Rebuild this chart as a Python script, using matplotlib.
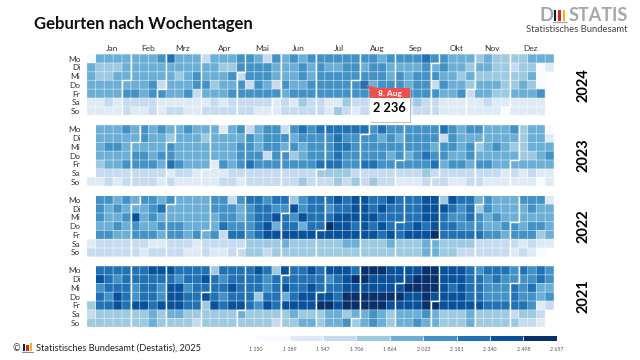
"""
Geburten nach Wochentagen: Kalender-Heatmap
"""
from datetime import date

import matplotlib
matplotlib.use("Agg")
import matplotlib.pyplot as plt
import numpy as np
from matplotlib.colors import BoundaryNorm, ListedColormap
from matplotlib.patches import Polygon, Rectangle

plt.rcParams["font.family"] = ["Lato", "DejaVu Sans"]

years = [2024, 2023, 2022, 2021]
weekdays = ["Mo", "Di", "Mi", "Do", "Fr", "Sa", "So"]
months = ["Jan", "Feb", "Mrz", "Apr", "Mai", "Jun", "Jul", "Aug", "Sep", "Okt", "Nov", "Dez"]
month_pos = [2.9, 7.0, 10.9, 15.6, 19.9, 24.0, 28.6, 33.0, 37.3, 42.0, 46.0, 50.3]
breaks = [1230, 1389, 1547, 1706, 1864, 2023, 2181, 2340, 2498, 2657]
break_labels = ["1 230", "1 389", "1 547", "1 706", "1 864", "2 023", "2 181", "2 340", "2 498", "2 657"]
shades = ["#f7fbff", "#deebf7", "#c6dbef", "#9ecae1", "#6baed6", "#4292c6", "#2171b5", "#08519c", "#08306b"]

# Geburten je Tag in Hundert, Zeile = Wochentag, Spalte = Kalenderwoche, 0 = kein Tag
births_2024 = [
    [13,19,19,19,19,19,19,19,21,23,19,19,19,16,19,19,19,21,21,19,16,21,19,21,19,21,21,21,21,21,21,21,21,19,21,21,21,21,23,21,21,19,19,19,18,19,18,18,18,18,19,19,19],
    [19,18,18,18,19,19,19,19,19,19,19,19,19,19,19,18,18,21,21,21,21,19,19,19,21,19,21,19,19,21,21,19,21,21,19,19,19,19,21,19,21,19,19,18,19,19,18,18,16,18,18,13,15],
    [19,18,18,19,19,19,19,19,19,19,18,19,21,19,19,19,21,16,21,21,21,19,19,19,21,19,21,21,21,21,21,21,21,21,19,21,19,21,21,21,19,19,18,19,18,18,18,18,18,18,19,13,0],
    [19,19,19,19,19,19,19,21,16,19,19,19,21,21,18,19,19,21,16,21,19,16,21,19,19,21,21,21,21,21,21,23,19,21,21,21,19,21,21,16,21,19,19,18,19,19,19,18,18,19,18,13,0],
    [19,19,19,19,21,21,19,21,21,19,19,21,16,19,19,19,21,21,21,21,21,21,19,21,21,21,21,21,21,21,21,21,21,21,19,21,21,21,21,21,19,19,21,16,19,19,18,18,19,19,19,21,0],
    [15,15,16,15,16,16,16,16,15,15,15,15,15,15,16,15,16,16,16,16,16,15,16,15,18,16,16,15,15,18,16,16,16,15,15,16,16,18,16,16,15,15,15,15,15,16,15,15,15,15,15,15,0],
    [15,15,15,15,16,15,15,16,15,16,16,15,15,16,16,16,16,16,16,15,15,15,16,16,16,16,16,15,18,16,15,16,16,15,15,16,15,16,16,16,15,15,15,15,15,15,15,13,15,15,15,15,0],
]
births_2023 = [
    [0,19,19,19,21,19,21,19,21,19,19,21,19,19,19,15,19,21,16,19,21,21,16,21,23,21,23,23,23,23,23,23,21,23,21,21,21,21,21,21,23,21,19,21,21,19,19,19,21,18,19,19,13],
    [0,19,19,19,19,19,21,19,19,18,19,19,19,18,19,19,19,19,21,19,21,21,21,19,21,21,21,21,23,21,21,21,21,19,21,19,21,21,21,21,16,21,19,19,19,19,19,19,19,18,19,19,15],
    [0,19,21,21,19,19,19,19,19,21,19,19,19,19,19,19,19,21,21,19,21,21,19,21,19,21,21,21,23,23,21,21,21,21,21,21,21,21,21,19,21,21,19,21,18,19,21,19,18,18,19,19,19],
    [0,19,19,19,19,21,21,19,21,21,19,19,19,19,19,19,19,21,21,21,16,21,21,18,19,21,21,21,23,21,21,21,21,21,19,21,19,21,23,21,21,19,19,21,19,19,19,19,19,18,18,19,21],
    [0,18,19,19,21,21,21,21,19,23,21,19,19,19,15,21,19,21,23,21,21,21,21,21,21,21,23,23,23,21,21,23,23,21,21,21,21,21,21,23,19,21,21,19,21,21,19,19,19,19,19,19,19],
    [0,16,16,16,16,16,16,16,16,15,16,16,15,15,15,15,16,16,16,16,16,16,16,16,16,16,18,18,18,18,16,16,16,16,16,16,16,16,18,16,16,16,16,16,16,16,16,15,16,15,16,15,15],
    [15,15,16,15,16,16,16,16,15,16,15,15,15,15,15,16,16,15,16,16,16,16,16,16,18,16,16,16,18,16,18,16,18,16,16,15,15,15,16,16,16,15,15,16,16,15,15,15,15,15,15,13,15],
]
births_2022 = [
    [0,21,21,19,21,19,21,21,19,21,19,19,19,19,21,21,16,21,23,23,21,23,23,18,21,23,23,23,24,23,24,24,23,23,24,23,23,23,24,24,18,24,23,23,19,21,19,19,19,21,21,21,15],
    [0,21,19,21,19,19,19,21,23,19,19,19,19,19,21,21,21,19,21,23,23,21,21,24,21,23,23,21,23,23,24,24,23,24,23,23,23,23,24,24,24,23,21,23,18,21,19,19,19,19,21,19,19],
    [0,21,19,19,21,24,19,21,19,19,19,19,19,19,19,21,21,19,21,23,23,24,23,21,24,23,23,23,24,24,24,24,24,23,23,23,23,23,24,24,23,21,21,23,21,19,21,19,19,19,19,19,19],
    [0,19,19,21,19,21,19,19,21,21,21,19,19,19,19,23,21,21,21,23,24,19,23,23,19,23,23,26,24,24,23,24,23,24,23,23,23,24,23,24,23,23,21,21,21,19,19,21,21,19,21,21,19],
    [0,21,21,19,19,21,21,21,19,21,21,19,21,19,21,16,23,23,21,23,24,24,24,24,24,24,24,24,24,24,24,24,24,23,24,23,24,24,24,26,23,23,23,23,23,21,21,19,21,21,21,18,19],
    [15,16,16,16,16,16,16,15,15,16,16,16,15,16,16,16,16,16,18,18,18,18,19,18,18,18,18,18,18,19,19,18,18,18,19,18,18,18,19,19,18,18,18,18,16,16,16,16,16,15,16,15,15],
    [16,16,16,16,16,16,15,16,16,16,16,15,15,16,15,15,16,16,18,18,16,18,18,18,18,18,18,18,18,18,18,18,18,18,18,18,18,18,19,19,18,18,16,16,16,16,16,16,15,16,15,13,0],
]
births_2021 = [
    [0,23,23,23,23,23,23,24,24,24,23,23,23,23,18,23,23,23,23,24,23,18,24,23,23,24,23,24,24,24,23,26,26,26,24,24,24,24,26,26,24,24,24,23,21,23,23,23,21,23,21,23,21],
    [0,24,23,21,23,23,23,23,23,23,21,23,23,24,23,21,23,23,23,23,21,23,23,23,23,23,23,21,23,24,26,26,24,24,24,24,24,26,26,26,24,24,24,23,23,21,23,21,21,21,21,23,21],
    [0,21,23,23,23,21,23,23,21,24,24,21,23,23,23,23,24,23,23,23,21,23,24,23,23,24,23,23,23,24,24,24,24,24,24,24,26,26,26,26,24,23,24,23,23,21,21,21,23,21,23,19,19],
    [0,23,21,24,23,21,23,23,21,24,24,23,23,24,23,21,23,23,23,18,23,23,19,23,24,24,24,24,23,26,26,26,26,26,26,26,24,24,26,24,24,24,24,23,23,21,21,21,23,21,21,19,21],
    [18,23,23,24,23,24,24,23,24,24,24,23,23,18,24,23,24,24,23,21,24,23,24,24,24,24,26,26,24,26,26,26,26,26,24,24,24,24,26,26,24,24,24,24,24,23,23,23,23,23,21,15,16],
    [16,18,18,18,18,18,18,19,18,19,19,18,18,18,18,18,18,19,18,18,18,18,18,19,18,18,18,19,19,18,19,19,21,19,18,19,19,19,21,19,18,18,18,19,18,18,18,18,16,18,18,16,0],
    [18,18,18,18,18,18,18,19,18,18,18,18,16,18,18,18,18,18,18,18,18,16,18,18,19,19,18,19,19,21,18,19,21,19,18,19,19,21,19,19,18,18,18,19,18,18,18,18,18,16,16,15,0],
]
births = [births_2024, births_2023, births_2022, births_2021]
tooltip_date = "8. Aug"
tooltip_value = "2 236"

W, H = 640, 360
fig = plt.figure(figsize=(W / 100, H / 100), dpi=100)
cmap = ListedColormap(shades)
norm = BoundaryNorm(breaks, cmap.N)


def px_axes(x0, y0, x1, y1):
    """Achsen aus Pixelkoordinaten (Ursprung oben links)"""
    return fig.add_axes([x0 / W, 1 - y1 / H, (x1 - x0) / W, (y1 - y0) / H])


def month_line(ax, year, month):
    """weisse Stufenlinie an der Grenze zum Vormonat"""
    first = date(year, month, 1)
    pos = (first - date(year, 1, 1)).days + date(year, 1, 1).weekday()
    col, row = pos // 7, first.weekday()
    xs = [col + 1, col + 1, col, col] if row > 0 else [col, col]
    ys = [0, row, row, 7] if row > 0 else [0, 7]
    ax.plot(xs, ys, color="white", lw=1.0, solid_joinstyle="miter", solid_capstyle="butt")


tops = [54.2, 125, 195.5, 266]
for i, year in enumerate(years):
    ax = px_axes(86.7, tops[i], 554, tops[i] + 61.2)
    values = np.ma.masked_equal(np.array(births[i], dtype=float), 0) * 100
    ax.pcolormesh(np.arange(54), np.arange(8), values, cmap=cmap, norm=norm)
    ax.vlines(np.arange(54), 0, 7, color="white", lw=0.7, alpha=0.45, snap=False)
    ax.hlines(np.arange(8), 0, 53, color="white", lw=0.7, alpha=0.45, snap=False)
    for m in range(2, 13):
        month_line(ax, year, m)
    ax.set_xlim(0, 53)
    ax.set_ylim(7, 0)
    ax.set_yticks(np.arange(7) + 0.5, weekdays, fontsize=6, color="#333333")
    if i == 0:
        ax.xaxis.tick_top()
        ax.set_xticks(month_pos, months, fontsize=6, color="#333333")
        ax.tick_params(axis="x", length=0, pad=1.5)
    else:
        ax.set_xticks([])
    ax.tick_params(axis="y", length=0, pad=4.5)
    for s in ax.spines.values():
        s.set_visible(False)
    ax.text(1.0635, 0.5, str(year), transform=ax.transAxes, rotation=90, ha="center",
            va="center", fontsize=10.5, fontweight="bold", color="black")

# Legende
leg = px_axes(256, 336, 557, 341)
leg.pcolormesh(np.array(breaks), [0, 1], np.array([breaks[:-1]]) + 1.0, cmap=cmap, norm=norm)
leg.vlines(breaks, 0, 1, color="white", lw=0.6)
leg.set_yticks([])
leg.set_xticks(breaks, break_labels, fontsize=3.8, color="#555555")
leg.tick_params(length=0, pad=4)
for s in leg.spines.values():
    s.set_visible(False)

# Ebene in Pixelkoordinaten fuer Titel, Logo, Tooltip
top = fig.add_axes([0, 0, 1, 1], facecolor="none")
top.set_xlim(0, W)
top.set_ylim(H, 0)
top.axis("off")

top.text(34, 24, "Geburten nach Wochentagen", fontsize=12.1, fontweight="bold",
         color="#111111", ha="left", va="center")

# Logo
top.text(539.5, 15.5, "D", fontsize=13.5, fontweight="bold", color="#a3a7aa", ha="left", va="center")
for x, c in zip([553.5, 558, 562.5], ["#1a1a1a", "#d9232e", "#f2b705"]):
    top.add_patch(Rectangle((x, 10), 2.8, 10.5, color=c, lw=0))
top.plot([553, 566], [21.5, 21.5], color="#a3a7aa", lw=1)
top.text(628, 15.5, "STATIS", fontsize=13, fontweight="bold", color="#a3a7aa", ha="right", va="center")
top.text(628, 29.5, "Statistisches Bundesamt", fontsize=6.8, color="#444444", ha="right", va="center")

# Tooltip
top.add_patch(Rectangle((370.8, 89), 40, 34, color="#b0b0b0", lw=0, alpha=0.8))
top.add_patch(Rectangle((370, 88), 40, 34, facecolor="white", lw=0))
top.add_patch(Rectangle((370, 88), 40, 10, facecolor="#ef4f4f", lw=0))
top.add_patch(Polygon([(365, 85), (378, 88), (371, 91)], closed=True, facecolor="#ef4f4f", lw=0))
top.text(390, 93.3, tooltip_date, fontsize=6, fontweight="bold", color="white", ha="center", va="center")
top.text(389.5, 108, tooltip_value, fontsize=9.2, fontweight="bold", color="black", ha="center", va="center")

# Fusszeile
top.text(16, 348.5, "©", fontsize=6.5, color="#333333", ha="center", va="center")
for x, h, c in zip([22.5, 26, 29.5], [7, 6, 8], ["#1a1a1a", "#d9232e", "#f2b705"]):
    top.add_patch(Rectangle((x, 351 - h), 2.5, h, color=c, lw=0))
top.plot([22, 33], [352, 352], color="#888888", lw=0.7)
top.text(36, 348.5, "Statistisches Bundesamt (Destatis), 2025", fontsize=6.65, color="#222222",
         ha="left", va="center")

fig.savefig("out.png", dpi=100)
